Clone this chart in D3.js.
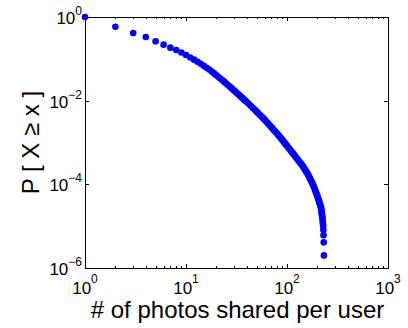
<!DOCTYPE html>
<html>
<head>
<meta charset="utf-8">
<script src="https://cdn.jsdelivr.net/npm/d3@7"></script>
<style>
  body { margin: 0; background: #fff; }
  text { font-family: Arial, "Liberation Sans", sans-serif; fill: #000; }
</style>
</head>
<body>
<div id="chart-container"></div>
<script>
// photos shared per user (x) and P[X >= x] (y)
const photos = [1, 2, 3, 4, 5, 6, 7, 8, 9, 10, 11, 12, 13, 14, 15, 16, 17, 18, 19, 20,
  21, 22, 23, 24, 25, 26, 27, 28, 29, 30, 31, 32, 33, 34, 35, 36, 37, 38, 39, 40,
  42, 44, 46, 48, 50, 52, 54, 56, 58, 60, 62, 64, 66, 68, 70, 72, 74, 76, 78, 80,
  82, 84, 86, 88, 90, 92, 94, 96, 98, 100,
  103, 106, 109, 112, 115, 118, 121, 124, 127, 130, 133, 136, 139, 142, 145, 148, 151, 154, 157, 160,
  163, 166, 169, 172, 175, 178, 181, 184, 187, 190, 193, 196, 198,
  200, 202, 204, 206, 208, 210, 212, 214, 216,
  217, 218, 219, 220, 221, 222, 223, 224, 225, 226, 227, 228, 229, 230, 231, 232];

const ccdf = [1, 0.586, 0.414, 0.333, 0.262, 0.218, 0.185, 0.163, 0.142, 0.124,
  0.108, 0.0955, 0.0853, 0.0760, 0.0680, 0.0613, 0.0556, 0.0499, 0.0448, 0.0405,
  0.0367, 0.0335, 0.0307, 0.0281, 0.0258, 0.0237, 0.0218, 0.0202, 0.0187, 0.0174,
  0.0162, 0.0151, 0.01417, 0.01326, 0.01243, 0.01168, 0.0110, 0.01037, 0.00979, 0.00926,
  0.00832, 0.00746, 0.0067, 0.00605, 0.00547, 0.00498, 0.00454, 0.00416, 0.00382, 0.00352,
  0.00323, 0.00296, 0.00272, 0.00251, 0.00232, 0.00215, 0.00199, 0.00185, 0.00173, 0.00161,
  0.00151, 0.00141, 0.00132, 0.00123, 0.00115, 0.00107, 0.001004, 0.00094, 0.000884, 0.00083,
  7.59e-4, 6.95e-4, 6.38e-4, 5.87e-4, 5.41e-4, 5.00e-4, 4.63e-4, 4.29e-4, 3.99e-4, 3.71e-4,
  3.46e-4, 3.23e-4, 3.02e-4, 2.81e-4, 2.60e-4, 2.40e-4, 2.22e-4, 2.06e-4, 1.91e-4, 1.78e-4,
  1.64e-4, 1.50e-4, 1.37e-4, 1.26e-4, 1.16e-4, 1.07e-4, 9.81e-5, 8.85e-5, 7.99e-5, 7.22e-5,
  6.54e-5, 5.94e-5, 5.57e-5,
  5.18e-5, 4.80e-5, 4.47e-5, 4.15e-5, 3.86e-5, 3.60e-5, 3.35e-5, 3.13e-5, 2.91e-5,
  2.82e-5, 2.62e-5, 2.41e-5, 2.21e-5, 2.03e-5, 1.86e-5, 1.71e-5, 1.58e-5, 1.42e-5, 1.27e-5,
  1.13e-5, 1.02e-5, 8.2e-6, 6.1e-6, 4.1e-6, 2.0e-6];

// tick exponents
const xTickExp = [0, 1, 2, 3];
const yTickExp = [0, -2, -4, -6];

const xLabel = '# of photos shared per user';
const yLabel = 'P [ X \u2265 x ]';

const W = 408, H = 328;
const margin = { top: 17, right: 20, bottom: 60, left: 85 };

const x = d3.scaleLog().domain([1, 1000]).range([margin.left, W - margin.right]);
const y = d3.scaleLog().domain([1e-6, 1]).range([H - margin.bottom, margin.top]);

const svg = d3.select('#chart-container')
  .append('svg')
  .attr('width', W)
  .attr('height', H);

svg.append('rect').attr('width', W).attr('height', H).attr('fill', '#fff');

const x0 = x.range()[0], x1 = x.range()[1];
const y0 = y.range()[0], y1 = y.range()[1];

// minor x ticks 2..9 in each decade
const xMinor = [];
for (let e = 0; e < 3; e++) for (let k = 2; k <= 9; k++) xMinor.push(k * Math.pow(10, e));

const ticks = svg.append('g').attr('stroke', '#000').attr('stroke-width', 1);

// x ticks bottom + top, inward
ticks.selectAll('.xminb').data(xMinor).join('line')
  .attr('x1', (d) => Math.round(x(d)) + 0.5).attr('x2', (d) => Math.round(x(d)) + 0.5)
  .attr('y1', y0).attr('y2', y0 - 2);
ticks.selectAll('.xmint').data(xMinor).join('line')
  .attr('x1', (d) => Math.round(x(d)) + 0.5).attr('x2', (d) => Math.round(x(d)) + 0.5)
  .attr('y1', y1).attr('y2', y1 + 2);
ticks.selectAll('.xmajb').data(xTickExp).join('line')
  .attr('x1', (d) => Math.round(x(Math.pow(10, d))) + 0.5).attr('x2', (d) => Math.round(x(Math.pow(10, d))) + 0.5)
  .attr('y1', y0).attr('y2', y0 - 4);
ticks.selectAll('.xmajt').data(xTickExp).join('line')
  .attr('x1', (d) => Math.round(x(Math.pow(10, d))) + 0.5).attr('x2', (d) => Math.round(x(Math.pow(10, d))) + 0.5)
  .attr('y1', y1).attr('y2', y1 + 4);

// y ticks left + right, inward
ticks.selectAll('.ymajl').data(yTickExp).join('line')
  .attr('y1', (d) => Math.round(y(Math.pow(10, d))) + 0.5).attr('y2', (d) => Math.round(y(Math.pow(10, d))) + 0.5)
  .attr('x1', x0).attr('x2', x0 + 4);
ticks.selectAll('.ymajr').data(yTickExp).join('line')
  .attr('y1', (d) => Math.round(y(Math.pow(10, d))) + 0.5).attr('y2', (d) => Math.round(y(Math.pow(10, d))) + 0.5)
  .attr('x1', x1).attr('x2', x1 - 4);

// box
svg.append('rect')
  .attr('x', x0 + 0.5).attr('y', y1 + 0.5)
  .attr('width', x1 - x0).attr('height', y0 - y1)
  .attr('fill', 'none').attr('stroke', '#000').attr('stroke-width', 1);

// x tick labels
const xl = svg.append('g').selectAll('text').data(xTickExp).join('text')
  .attr('x', (d) => x(Math.pow(10, d)))
  .attr('y', y0 + 26)
  .attr('text-anchor', 'middle')
  .style('font-size', '17px');
xl.append('tspan').text('10');
xl.append('tspan').attr('dy', -11).style('font-size', '12px').text((d) => String(d).replace('-', '\u2212'));

// y tick labels
const yl = svg.append('g').selectAll('text').data(yTickExp).join('text')
  .attr('x', x0 - 3)
  .attr('y', (d) => y(Math.pow(10, d)) + 7)
  .attr('text-anchor', 'end')
  .style('font-size', '17px');
yl.append('tspan').text('10');
yl.append('tspan').attr('dy', -9).style('font-size', '12px').text((d) => String(d).replace('-', '\u2212'));

// axis labels
svg.append('text')
  .attr('x', (x0 + x1) / 2 + 1)
  .attr('y', y0 + 50)
  .attr('text-anchor', 'middle')
  .style('font-size', '24px')
  .text(xLabel);

svg.append('text')
  .attr('transform', `translate(39,${(y0 + y1) / 2}) rotate(-90)`)
  .attr('text-anchor', 'middle')
  .style('font-size', '24px')
  .text(yLabel);

// points
const pts = photos.map((p, i) => ({ p, c: ccdf[i] }));
svg.append('g').selectAll('circle').data(pts).join('circle')
  .attr('cx', (d) => x(d.p))
  .attr('cy', (d) => y(d.c))
  .attr('r', 3.3)
  .attr('fill', '#0000ff');
</script>
</body>
</html>
